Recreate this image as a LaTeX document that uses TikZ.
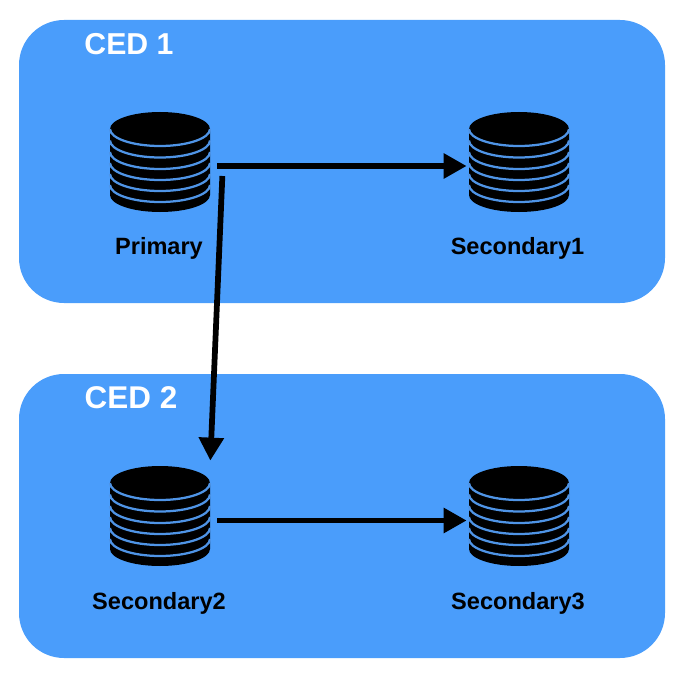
\documentclass[tikz,border=0pt]{standalone}
\usepackage{fontspec}
\setmainfont{Liberation Sans}
\usetikzlibrary{arrows.meta, calc}
\definecolor{cedblue}{HTML}{4A9DFB}
\definecolor{stripeblue}{HTML}{4F94E6}
\tikzset{
  cedbox/.style={fill=cedblue, rounded corners=0.9cm},
  cedlabel/.style={text=white, font=\bfseries\fontsize{17.2}{19}\selectfont},
  dbnode/.style={minimum width=2cm, minimum height=2cm, inner sep=0pt},
  dblabel/.style={font=\bfseries\fontsize{13.4}{15}\selectfont},
  flow/.style={-{Triangle[length=0.46cm, width=0.48cm]}, line width=0.115cm}
}
\begin{document}
\begin{tikzpicture}
  \useasboundingbox (0,0) rectangle (13.7,13.64);
  % two blue regions
  \fill[cedbox] (0.38,7.58) rectangle (13.3,13.24);
  \fill[cedbox] (0.38,0.48) rectangle (13.3,6.16);
  \node[cedlabel] (ced1) at (2.58,12.76) {CED 1};
  \node[cedlabel, scale=1.04] (ced2) at (2.62,5.68) {CED 2};
  % databases: name/x/y
  \foreach \nm/\xc/\yc in {primary/3.2/10.4, secondary1/10.38/10.4, secondary2/3.2/3.32, secondary3/10.38/3.32} {
    \node[dbnode] (\nm) at (\xc,\yc) {};
    \fill (\xc-1,\yc+0.66) -- (\xc-1,\yc-0.66) arc[start angle=180, end angle=360, x radius=1, y radius=0.34]
      -- (\xc+1,\yc+0.66) arc[start angle=0, end angle=180, x radius=1, y radius=0.34] -- cycle;
    \foreach \dy in {0.66,0.43,0.2,-0.02,-0.24,-0.46} {
      \draw[stripeblue, line width=0.045cm] (\xc-1,\yc+\dy) arc[start angle=180, end angle=360, x radius=1, y radius=0.34];
    }
  }
  % labels
  \node[dblabel] (primarylab) at (3.18,8.68) {Primary};
  \node[dblabel] (secondary1lab) at (10.35,8.68) {Secondary1};
  \node[dblabel] (secondary2lab) at (3.18,1.57) {Secondary2};
  \node[dblabel] (secondary3lab) at (10.36,1.57) {Secondary3};
  % replication
  \draw[flow] ($(primary.east)+(0.14,-0.08)$) -- ($(secondary1.west)+(-0.04,-0.08)$);
  \draw[flow] ($(primary.east)+(0.24,-0.28)$) -- ($(secondary2.north east)+(0,0.1)$);
  \draw[flow] ($(secondary2.east)+(0.14,-0.09)$) -- ($(secondary3.west)+(-0.04,-0.09)$);
\end{tikzpicture}
\end{document}
